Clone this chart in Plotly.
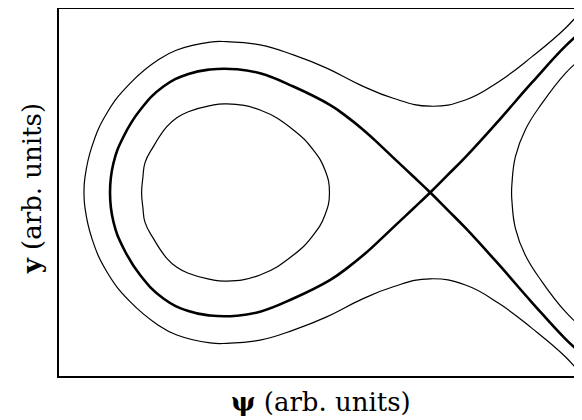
import plotly.graph_objects as go

# Curves (arb. units)
# Outer open orbit (energy above the separatrix), top-right -> left -> bottom-right
outer_psi = [1.711, 1.633, 1.477, 1.321, 1.165, 0.999, 0.827, 0.671, 0.515, 0.359, 0.203, 0.047,
             -0.031, -0.187, -0.274, -0.406, -0.515, -0.585, -0.617, -0.622,
             -0.617, -0.585, -0.515, -0.406, -0.274, -0.187, -0.031, 0.047, 0.203, 0.359, 0.515,
             0.671, 0.827, 0.999, 1.165, 1.321, 1.477, 1.633, 1.711]
outer_y = [0.855, 0.769, 0.636, 0.519, 0.433, 0.404, 0.441, 0.504, 0.582, 0.644, 0.691, 0.706,
           0.704, 0.667, 0.621, 0.511, 0.371, 0.215, 0.074, 0.0,
           -0.074, -0.215, -0.371, -0.511, -0.621, -0.667, -0.704, -0.706, -0.691, -0.644, -0.582,
           -0.504, -0.441, -0.404, -0.433, -0.519, -0.636, -0.769, -0.857]

# Separatrix (thick): top-right -> saddle -> lower loop -> left tip -> upper loop -> saddle -> bottom-right
sep_psi = [1.711, 1.633, 1.477, 1.321, 1.165, 1.080, 1.0,
           0.921, 0.843, 0.765, 0.687, 0.609, 0.530, 0.359, 0.203, 0.094, -0.031, -0.133, -0.250,
           -0.359, -0.437, -0.484, -0.500,
           -0.484, -0.437, -0.359, -0.250, -0.133, -0.031, 0.094, 0.203, 0.359, 0.530, 0.609,
           0.687, 0.765, 0.843, 0.921, 1.0,
           1.080, 1.165, 1.321, 1.477, 1.633, 1.711]
sep_y = [0.756, 0.685, 0.515, 0.337, 0.166, 0.080, 0.0,
         -0.075, -0.148, -0.222, -0.293, -0.355, -0.410, -0.496, -0.558, -0.577, -0.576, -0.555, -0.496,
         -0.386, -0.261, -0.137, 0.0,
         0.137, 0.261, 0.386, 0.496, 0.555, 0.576, 0.577, 0.558, 0.496, 0.410, 0.355,
         0.293, 0.222, 0.148, 0.075, 0.0,
         -0.080, -0.166, -0.337, -0.515, -0.685, -0.756]

# Inner closed orbit
inner_psi = [-0.352, -0.346, -0.336, -0.297, -0.234, -0.187, -0.133, -0.031, 0.047, 0.203, 0.359, 0.452,
             0.507, 0.528,
             0.507, 0.452, 0.359, 0.203, 0.047, -0.031, -0.133, -0.187, -0.234, -0.297, -0.336,
             -0.346, -0.352]
inner_y = [0.0, 0.070, 0.140, 0.215, 0.308, 0.350, 0.378, 0.407, 0.415, 0.386, 0.293, 0.199,
           0.105, 0.0,
           -0.105, -0.199, -0.293, -0.386, -0.415, -0.407, -0.378, -0.350, -0.308, -0.215, -0.140,
           -0.070, 0.0]

# Right open orbit (beyond the saddle)
right_psi = [1.711, 1.633, 1.524, 1.445, 1.399, 1.383, 1.381, 1.383, 1.399, 1.445, 1.524, 1.633, 1.711]
right_y = [0.630, 0.558, 0.418, 0.293, 0.168, 0.043, 0.0, -0.043, -0.168, -0.293, -0.418, -0.558, -0.632]

x_range = [-0.739, 1.711]
y_range = [-0.859, 0.859]

fig = go.Figure()
for xs, ys, w in [(outer_psi, outer_y, 1.2), (inner_psi, inner_y, 1.2),
                  (right_psi, right_y, 1.2), (sep_psi, sep_y, 2.6)]:
    fig.add_trace(go.Scatter(x=xs, y=ys, mode="lines",
                             line=dict(color="black", width=w, shape="spline", smoothing=1.3),
                             hoverinfo="skip", showlegend=False, cliponaxis=True))

font = dict(family="DejaVu Serif", size=26, color="black")
fig.update_layout(
    width=582, height=420,
    margin=dict(l=51, r=8, t=1, b=52),
    paper_bgcolor="white", plot_bgcolor="white",
    showlegend=False,
    xaxis=dict(range=x_range, showgrid=False, zeroline=False, showticklabels=False, ticks="",
               showline=True, linecolor="black", linewidth=2, mirror=True, automargin=False),
    yaxis=dict(range=y_range, showgrid=False, zeroline=False, showticklabels=False, ticks="",
               showline=True, linecolor="black", linewidth=2, mirror=False, automargin=False),
    annotations=[
        dict(text="<b>ψ</b> (arb. units)", xref="paper", yref="paper", x=0.5, y=-0.072,
             xanchor="center", yanchor="middle", showarrow=False, font=font),
        dict(text="<b>y</b> (arb. units)", xref="paper", yref="paper", x=-0.05, y=0.511,
             xanchor="center", yanchor="middle", showarrow=False, font=font, textangle=-90),
    ],
)

fig.write_html("out.html")
